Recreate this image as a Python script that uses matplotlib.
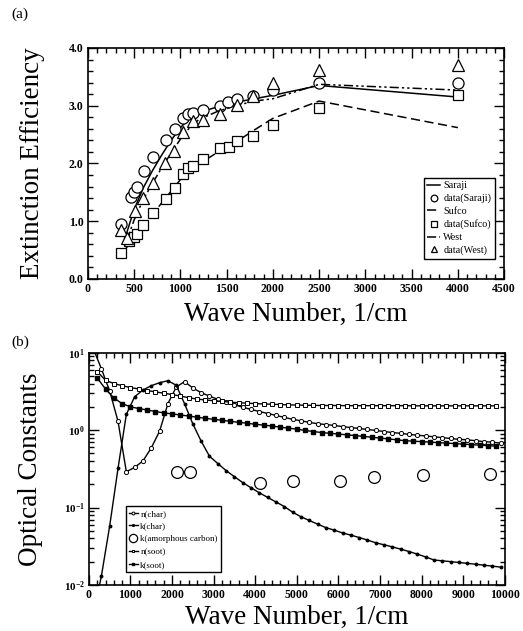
import numpy as np
import matplotlib
matplotlib.use("Agg")
import matplotlib.pyplot as plt
from matplotlib.ticker import MultipleLocator, LogLocator, LogFormatterMathtext, NullFormatter

plt.rcParams["font.family"] = ["Liberation Serif", "DejaVu Serif"]
plt.rcParams["mathtext.fontset"] = "custom"
plt.rcParams["mathtext.rm"] = "Liberation Serif"
plt.rcParams["mathtext.bf"] = "Liberation Serif:bold"

# ---- panel (a): extinction efficiency ----
saraji_wn = [360, 470, 500, 530, 605, 705, 845, 945, 1025, 1080, 1140, 1245, 1425, 1520, 1610, 1785, 2000, 2500, 4000]
saraji_q = [0.95, 1.42, 1.51, 1.59, 1.87, 2.11, 2.41, 2.60, 2.79, 2.86, 2.88, 2.92, 3.00, 3.07, 3.12, 3.17, 3.28, 3.40, 3.39]

sufco_wn = [360, 440, 500, 530, 600, 705, 845, 940, 1025, 1080, 1140, 1245, 1425, 1525, 1610, 1785, 2000, 2500, 4000]
sufco_q = [0.45, 0.66, 0.72, 0.78, 0.93, 1.14, 1.38, 1.57, 1.81, 1.92, 1.95, 2.07, 2.27, 2.29, 2.39, 2.48, 2.67, 2.96, 3.19]

west_wn = [360, 420, 505, 600, 705, 835, 930, 1030, 1140, 1245, 1430, 1610, 1785, 2000, 2500, 4000]
west_q = [0.84, 0.70, 1.18, 1.40, 1.66, 2.01, 2.21, 2.55, 2.73, 2.75, 2.85, 3.01, 3.16, 3.39, 3.62, 3.70]

model_wn = [400, 500, 600, 700, 800, 900, 1000, 1100, 1200, 1400, 1600, 1800, 2000, 2500, 4000]
saraji_model = [0.70, 1.20, 1.58, 1.88, 2.15, 2.40, 2.62, 2.78, 2.88, 2.98, 3.06, 3.12, 3.18, 3.35, 3.15]
sufco_model = [0.50, 0.72, 0.92, 1.12, 1.32, 1.52, 1.72, 1.87, 1.99, 2.19, 2.37, 2.58, 2.78, 3.08, 2.62]
west_model = [0.58, 1.02, 1.38, 1.66, 1.93, 2.18, 2.42, 2.62, 2.76, 2.90, 3.00, 3.08, 3.12, 3.37, 3.27]

# ---- panel (b): optical constants ----
wn_char = np.arange(100, 10000, 200)
n_char = [11.5, 6.2, 3.2, 1.3, 0.29, 0.33, 0.40, 0.59, 0.97, 2.2,
          3.6, 4.24, 3.5, 3.05, 2.75, 2.5, 2.3, 2.12, 1.98, 1.85,
          1.74, 1.64, 1.55, 1.46, 1.38, 1.32, 1.26, 1.21, 1.18, 1.15,
          1.11, 1.08, 1.05, 1.02, 0.99, 0.96, 0.93, 0.91, 0.88, 0.86,
          0.84, 0.82, 0.80, 0.78, 0.76, 0.75, 0.73, 0.71, 0.70, 0.68]
k_char = [0.004, 0.013, 0.058, 0.32, 1.6, 2.7, 3.3, 3.75, 4.1, 4.35,
          3.8, 2.2, 1.2, 0.72, 0.46, 0.37, 0.30, 0.25, 0.21, 0.18,
          0.155, 0.135, 0.118, 0.103, 0.087, 0.076, 0.068, 0.061, 0.055, 0.051,
          0.047, 0.044, 0.041, 0.038, 0.035, 0.033, 0.031, 0.029, 0.027, 0.025,
          0.023, 0.021, 0.0205, 0.020, 0.0195, 0.019, 0.0185, 0.018, 0.0175, 0.017]

wn_soot = np.arange(200, 10000, 200)
n_soot = [5.7, 4.4, 4.0, 3.75, 3.55, 3.4, 3.25, 3.12, 3.0, 2.88,
          2.76, 2.62, 2.52, 2.45, 2.4, 2.35, 2.3, 2.26, 2.23, 2.2,
          2.18, 2.16, 2.14, 2.12, 2.11, 2.10, 2.09, 2.08, 2.08, 2.08,
          2.07, 2.07, 2.07, 2.07, 2.07, 2.07, 2.07, 2.07, 2.06, 2.06,
          2.06, 2.06, 2.06, 2.06, 2.06, 2.06, 2.06, 2.06, 2.06]
k_soot = [4.7, 3.4, 2.6, 2.2, 2.0, 1.9, 1.82, 1.74, 1.67, 1.62,
          1.57, 1.52, 1.47, 1.42, 1.38, 1.34, 1.30, 1.26, 1.23, 1.19,
          1.16, 1.13, 1.09, 1.06, 1.03, 0.99, 0.96, 0.93, 0.91, 0.89,
          0.87, 0.85, 0.83, 0.81, 0.79, 0.77, 0.75, 0.73, 0.72, 0.71,
          0.70, 0.69, 0.68, 0.67, 0.66, 0.65, 0.64, 0.63, 0.62]

amc_wn = [2120, 2430, 4120, 4900, 6040, 6860, 8040, 9640]
amc_k = [0.29, 0.29, 0.21, 0.22, 0.22, 0.25, 0.26, 0.27]


def style_axes(ax):
    ax.tick_params(which="both", direction="in", top=True, right=True, width=1)
    ax.tick_params(which="major", length=7, labelsize=8.5, pad=3)
    ax.tick_params(which="minor", length=3.5)
    for lab in ax.get_xticklabels() + ax.get_yticklabels():
        lab.set_fontweight("bold")
    for s in ax.spines.values():
        s.set_linewidth(1.2)


fig = plt.figure(figsize=(5.23, 6.31), dpi=100)

# panel (a)
ax1 = fig.add_axes([0.168, 0.558, 0.796, 0.366])
mk = dict(markerfacecolor="white", markeredgecolor="black", markeredgewidth=0.9, linestyle="none")
ax1.plot(model_wn, saraji_model, color="black", lw=1.1, label="Saraji")
ax1.plot(saraji_wn, saraji_q, marker="o", ms=8, label="data(Saraji)", **mk)
ax1.plot(model_wn, sufco_model, color="black", lw=1.1, dashes=(6, 3), label="Sufco")
ax1.plot(sufco_wn, sufco_q, marker="s", ms=7.5, label="data(Sufco)", **mk)
ax1.plot(model_wn, west_model, color="black", lw=1.1, dashes=(6, 2, 1.5, 2, 1.5, 2), label="West")
ax1.plot(west_wn, west_q, marker="^", ms=8, label="data(West)", **mk)

ax1.set_xlim(0, 4500)
ax1.set_ylim(0, 4)
ax1.xaxis.set_major_locator(MultipleLocator(500))
ax1.xaxis.set_minor_locator(MultipleLocator(100))
ax1.yaxis.set_major_locator(MultipleLocator(1))
ax1.yaxis.set_minor_locator(MultipleLocator(0.2))
ax1.yaxis.set_major_formatter(plt.FormatStrFormatter("%.1f"))
style_axes(ax1)
ax1.set_xlabel("Wave Number, 1/cm", fontsize=19.5, labelpad=5)
ax1.set_ylabel("Extinction Efficiency", fontsize=19.5, labelpad=17)
leg1 = ax1.legend(loc="lower right", bbox_to_anchor=(0.99, 0.065), fontsize=7.3,
                  handlelength=1.3, handletextpad=0.3, labelspacing=0.35,
                  borderpad=0.35, fancybox=False, framealpha=1, edgecolor="black", markerscale=0.6)
leg1.get_frame().set_linewidth(1.0)

# panel (b)
ax2 = fig.add_axes([0.170, 0.073, 0.795, 0.368])
ax2.plot(wn_char, n_char, color="black", lw=1.0, marker="o", ms=3, mfc="white", mew=0.7, label="n(char)")
ax2.plot(wn_char, k_char, color="black", lw=1.0, marker="o", ms=1.8, label="k(char)")
ax2.plot(amc_wn, amc_k, marker="o", ms=8.5, label="k(amorphous carbon)", **mk)
ax2.plot(wn_soot, n_soot, color="black", lw=1.0, marker="s", ms=3, mfc="white", mew=0.7, label="n(soot)")
ax2.plot(wn_soot, k_soot, color="black", lw=1.0, marker="s", ms=2.2, label="k(soot)")

ax2.set_yscale("log")
ax2.set_xlim(0, 10000)
ax2.set_ylim(0.01, 10)
ax2.xaxis.set_major_locator(MultipleLocator(1000))
ax2.xaxis.set_minor_locator(MultipleLocator(200))
ax2.yaxis.set_major_locator(LogLocator(base=10))
ax2.yaxis.set_minor_locator(LogLocator(base=10, subs=np.arange(2, 10)))
ax2.yaxis.set_major_formatter(LogFormatterMathtext())
ax2.yaxis.set_minor_formatter(NullFormatter())
style_axes(ax2)
ax2.tick_params(axis="y", labelsize=8)
ax2.set_xlabel("Wave Number, 1/cm", fontsize=19.5, labelpad=3)
ax2.set_ylabel("Optical Constants", fontsize=19.5, labelpad=15)
leg2 = ax2.legend(loc="lower left", bbox_to_anchor=(0.079, 0.035), fontsize=6.5,
                  handlelength=0.9, handletextpad=0.3, labelspacing=0.5,
                  borderpad=0.35, fancybox=False, framealpha=1, edgecolor="black", markerscale=0.7)
leg2.get_frame().set_linewidth(1.0)

fig.text(0.022, 0.978, "(a)", fontsize=11, va="center")
fig.text(0.022, 0.457, "(b)", fontsize=11, va="center")

fig.savefig("out.png", dpi=100)
